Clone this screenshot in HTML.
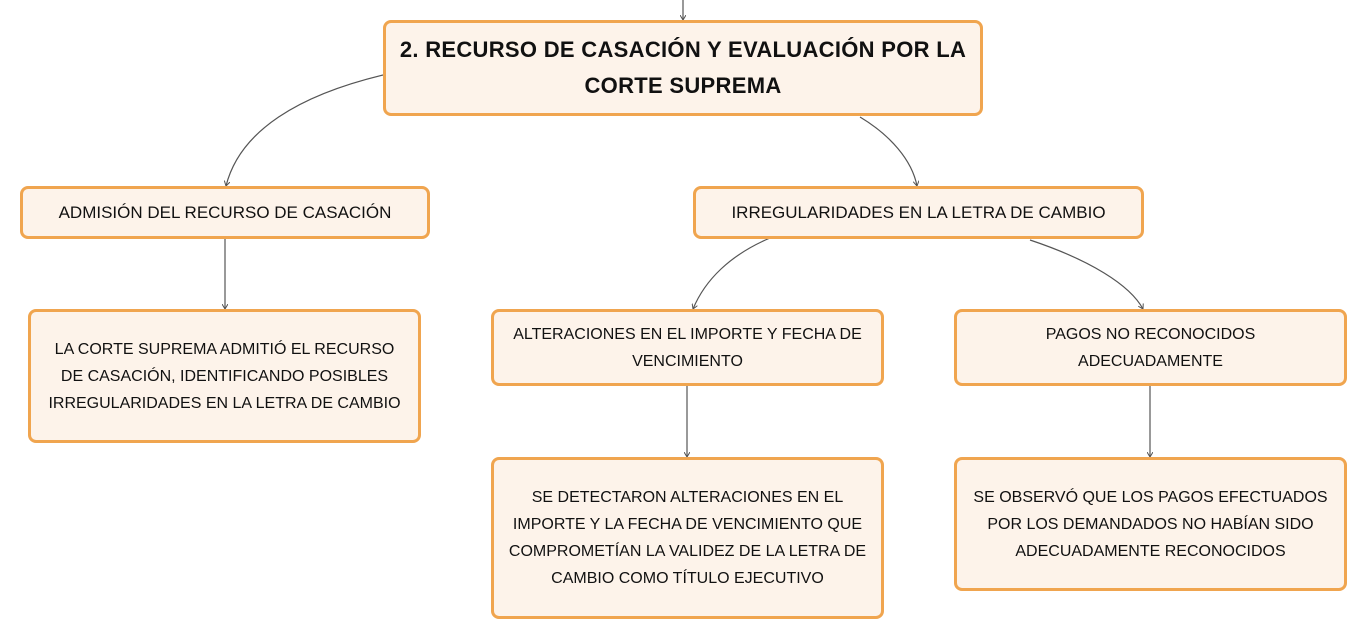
<!DOCTYPE html>
<html><head><meta charset="utf-8"><style>
body{margin:0;width:1367px;height:640px;background:#fff;position:relative;overflow:hidden;font-family:"Liberation Sans","DejaVu Sans",sans-serif;}
.b{position:absolute;box-sizing:border-box;background:#fdf3ea;border:3px solid #f0a54f;border-radius:8px;display:flex;align-items:center;justify-content:center;text-align:center;color:#111;font-size:16px;line-height:27px;}
.r{font-weight:bold;font-size:22px;line-height:36px;letter-spacing:0.3px}
svg{position:absolute;left:0;top:0}
</style></head><body>
<svg width="1367" height="640"><defs><marker id="a" markerWidth="6" markerHeight="6" refX="5" refY="3" orient="auto" markerUnits="userSpaceOnUse"><path d="M0 0L5 3L0 6" fill="none" stroke="#555" stroke-width="1"/></marker></defs>
<g fill="none" stroke="#555" stroke-width="1.2" marker-end="url(#a)">
<path d="M683 0V20"/>
<path d="M383 75C300 95 240 130 226 186"/>
<path d="M860 117C890 135 912 160 917 186"/>
<path d="M225 238V309"/>
<path d="M770 238C730 255 705 280 693 309"/>
<path d="M1030 240C1090 260 1130 285 1143 309"/>
<path d="M687 385V457"/>
<path d="M1150 385V457"/>
</g></svg>
<div class="b r" style="left:383px;top:20px;width:600px;height:96px">2. RECURSO DE CASACIÓN Y EVALUACIÓN POR LA<br>CORTE SUPREMA</div>
<div class="b" style="left:20px;top:186px;width:410px;height:53px;font-size:17px">ADMISIÓN DEL RECURSO DE CASACIÓN</div>
<div class="b" style="left:693px;top:186px;width:451px;height:53px;font-size:17px">IRREGULARIDADES EN LA LETRA DE CAMBIO</div>
<div class="b" style="left:28px;top:309px;width:393px;height:134px">LA CORTE SUPREMA ADMITIÓ EL RECURSO<br>DE CASACIÓN, IDENTIFICANDO POSIBLES<br>IRREGULARIDADES EN LA LETRA DE CAMBIO</div>
<div class="b" style="left:491px;top:309px;width:393px;height:77px">ALTERACIONES EN EL IMPORTE Y FECHA DE<br>VENCIMIENTO</div>
<div class="b" style="left:954px;top:309px;width:393px;height:77px">PAGOS NO RECONOCIDOS<br>ADECUADAMENTE</div>
<div class="b" style="left:491px;top:457px;width:393px;height:162px">SE DETECTARON ALTERACIONES EN EL<br>IMPORTE Y LA FECHA DE VENCIMIENTO QUE<br>COMPROMETÍAN LA VALIDEZ DE LA LETRA DE<br>CAMBIO COMO TÍTULO EJECUTIVO</div>
<div class="b" style="left:954px;top:457px;width:393px;height:134px">SE OBSERVÓ QUE LOS PAGOS EFECTUADOS<br>POR LOS DEMANDADOS NO HABÍAN SIDO<br>ADECUADAMENTE RECONOCIDOS</div>
</body></html>
